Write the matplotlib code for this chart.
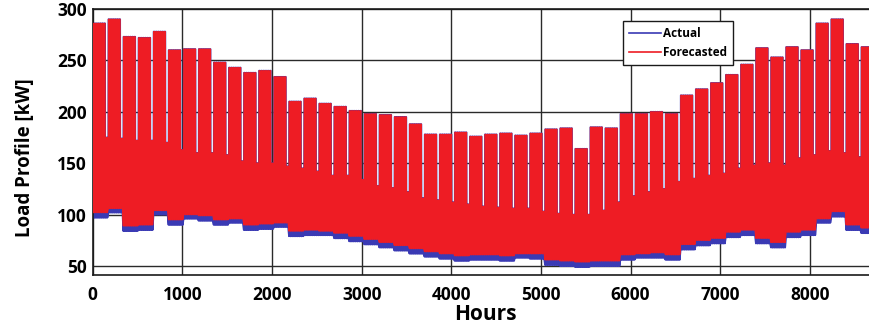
import numpy as np
import matplotlib
matplotlib.use("Agg")
import matplotlib.pyplot as plt

# ---- data (weekly envelopes, kW) ----
# weekday daily peak of each week (k = 0..52, week = 168 h)
week_peak = [286, 290, 273, 272, 278, 260, 261, 261, 248, 243, 238, 240, 234,
             210, 213, 208, 205, 201, 198, 197, 195, 188, 178, 178, 180, 176,
             178, 179, 177, 179, 183, 184, 164, 185, 184, 198, 198, 200, 198,
             216, 222, 228, 236, 246, 262, 253, 263, 260, 286, 290, 266, 263, 258]
# weekend daily peak (top of the dense core band)
week_weekend_high = [175, 174, 172, 172, 170, 163, 160, 160, 158, 152, 150, 150, 147,
                     145, 142, 138, 138, 134, 128, 126, 122, 116, 114, 112, 110, 108,
                     107, 106, 106, 103, 101, 100, 100, 104, 112, 118, 122, 125, 132,
                     135, 138, 140, 145, 148, 150, 148, 155, 158, 162, 160, 156, 155, 155]
# daily minimum of the actual load
actual_low = [97, 102, 84, 85, 100, 90, 96, 94, 90, 92, 85, 86, 88,
              79, 80, 80, 77, 74, 71, 68, 65, 62, 59, 57, 55, 56,
              56, 55, 58, 57, 51, 50, 49, 50, 50, 56, 58, 58, 56,
              66, 70, 72, 78, 80, 72, 68, 78, 80, 92, 98, 85, 82, 85]
# daily minimum of the forecasted load
forecast_low = [102, 106, 89, 90, 104, 95, 100, 99, 95, 96, 90, 91, 92,
                84, 85, 84, 82, 79, 76, 73, 70, 67, 64, 62, 60, 61,
                61, 60, 62, 62, 56, 55, 54, 55, 55, 61, 62, 63, 61,
                71, 75, 77, 83, 85, 77, 73, 83, 85, 96, 103, 90, 87, 90]

x_ticks = [0, 1000, 2000, 3000, 4000, 5000, 6000, 7000, 8000]
y_ticks = [50, 100, 150, 200, 250, 300]

# ---- daily low/high sequence built from the weekly readings ----
n_days = 365
days = np.arange(n_days)
wk = days // 7
off_day = (days % 7) == 6
peak = np.array(week_peak, float)[wk]
high = np.where(off_day, np.array(week_weekend_high, float)[wk], peak)


def daily_path(low):
    lo = np.array(low, float)[wk]
    x = np.empty(4 * n_days)
    y = np.empty(4 * n_days)
    base = days * 24
    x[0::4], y[0::4] = base + 6, lo
    x[1::4], y[1::4] = base + 8, high
    x[2::4], y[2::4] = base + 18, high
    x[3::4], y[3::4] = base + 20, lo
    return x, y


plt.rcParams['font.family'] = ['Open Sans', 'DejaVu Sans']

W, H = 869, 326
fig = plt.figure(figsize=(W / 100, H / 100), dpi=100)
left, right, top, bottom = 92.7, 878.0, 9.0, 275.3
ax = fig.add_axes([left / W, 1 - bottom / H, (right - left) / W, (bottom - top) / H])

blue = '#3a3ab4'
red = '#ee1c24'
xa, ya = daily_path(actual_low)
xf, yf = daily_path(forecast_low)
ax.plot(xa, ya, color=blue, lw=1.3, label='Actual', zorder=2)
ax.plot(xf, yf, color=red, lw=0.9, label='Forecasted', zorder=3)

ax.set_xlim(0, 8760)
ax.set_ylim(41, 300)
ax.set_xticks(x_ticks)
ax.set_yticks(y_ticks)
ax.grid(True, color='#2a2a2a', lw=1.0)
ax.set_axisbelow(True)
for s in ax.spines.values():
    s.set_color('#1a1a1a')
    s.set_linewidth(1.2)
ax.tick_params(length=0, labelsize=12.5)
ax.tick_params(axis='x', pad=8)
ax.tick_params(axis='y', pad=4)
for lab in ax.get_xticklabels() + ax.get_yticklabels():
    lab.set_fontweight('bold')

ax.set_xlabel('Hours', fontsize=15, fontweight='bold', va='center')
ax.xaxis.set_label_coords(0.5, -0.149)
ax.set_ylabel('Load Profile [kW]', fontsize=13.5, fontweight='bold', va='center')
ax.yaxis.set_label_coords(-0.086, 0.44)

leg = ax.legend(loc='upper left', bbox_to_anchor=(0.668, 0.977), fancybox=False,
                framealpha=1, edgecolor='#1a1a1a', handlelength=2.7,
                prop={'size': 8.5, 'weight': 'bold'}, borderpad=0.5,
                labelspacing=0.5, handletextpad=0.2)
leg.get_frame().set_linewidth(1.0)
for line in leg.get_lines():
    line.set_linewidth(1.2)
leg.set_zorder(10)

fig.savefig('out.png', dpi=100)
